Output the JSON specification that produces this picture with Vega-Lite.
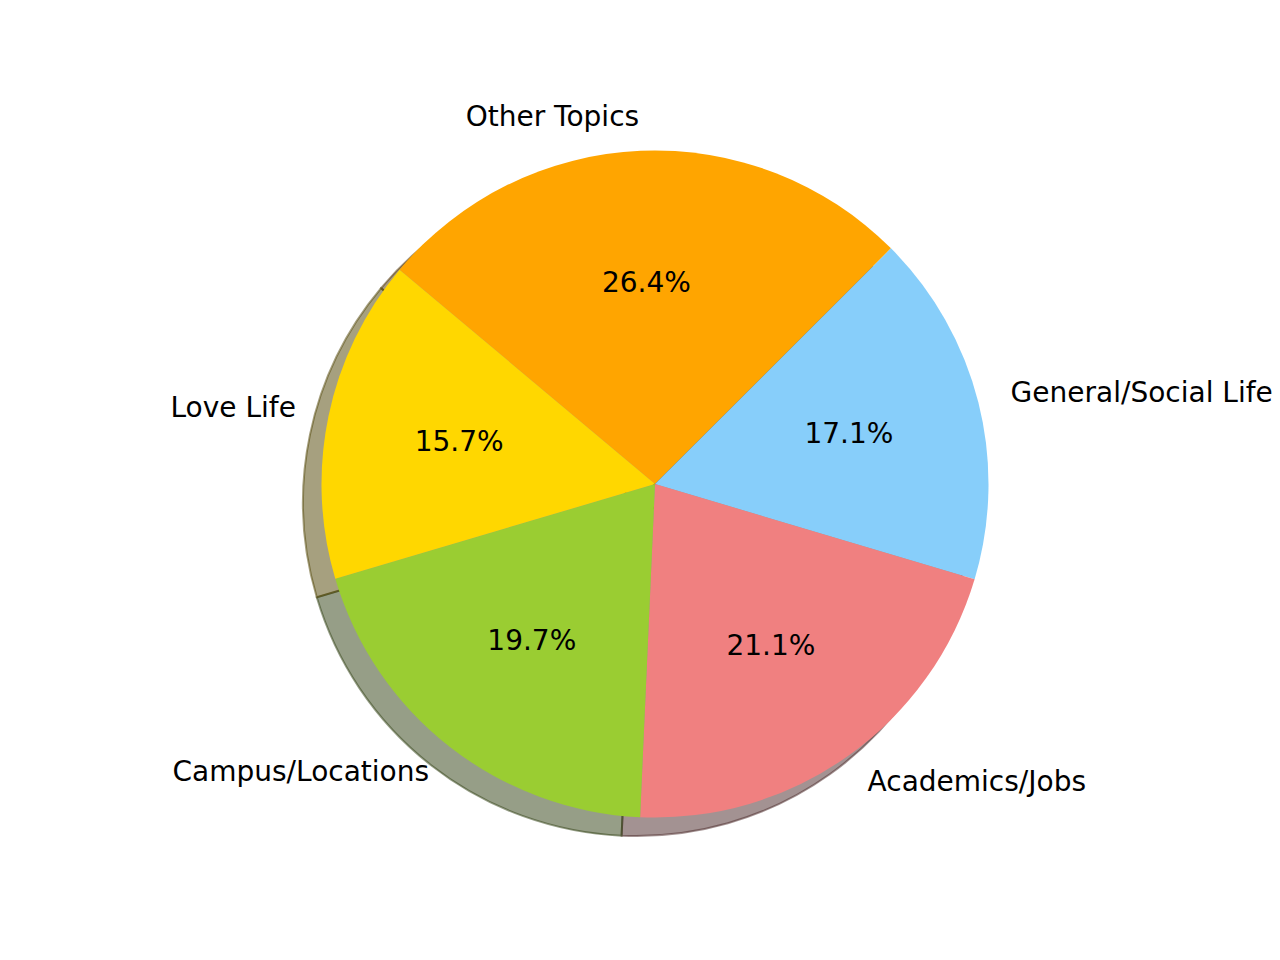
{
  "$schema": "https://vega.github.io/schema/vega-lite/v6.json",
  "width": 1280,
  "height": 960,
  "autosize": {"type": "fit", "contains": "padding"},
  "padding": {"left": 30, "top": 8, "right": 0, "bottom": 0},
  "background": "white",
  "config": {"view": {"stroke": null}, "text": {"font": "DejaVu Sans"}},
  "data": {
    "values": [
      {"topic": "Other Topics", "share": 0.264, "rank": 1},
      {"topic": "General/Social Life", "share": 0.171, "rank": 2},
      {"topic": "Academics/Jobs", "share": 0.211, "rank": 3},
      {"topic": "Campus/Locations", "share": 0.197, "rank": 4},
      {"topic": "Love Life", "share": 0.157, "rank": 5}
    ]
  },
  "encoding": {
    "theta": {"field": "share", "type": "quantitative", "stack": true, "scale": {"range": [-0.87266, 5.41052]}},
    "order": {"field": "rank", "type": "ordinal"}
  },
  "layer": [
    {
      "mark": {"type": "arc", "outerRadius": 333.5, "xOffset": -18.5, "yOffset": 18.5, "fillOpacity": 0.5, "strokeOpacity": 0.5, "strokeWidth": 2},
      "encoding": {
        "color": {"field": "topic", "type": "nominal", "legend": null,
          "scale": {"domain": ["Other Topics", "General/Social Life", "Academics/Jobs", "Campus/Locations", "Love Life"],
                    "range": ["#4d3200", "#293e4b", "#482626", "#2e3d0f", "#4d4100"]}},
        "stroke": {"field": "topic", "type": "nominal", "legend": null,
          "scale": {"domain": ["Other Topics", "General/Social Life", "Academics/Jobs", "Campus/Locations", "Love Life"],
                    "range": ["#4d3200", "#293e4b", "#482626", "#2e3d0f", "#4d4100"]}}
      }
    },
    {
      "mark": {"type": "arc", "outerRadius": 333.5},
      "encoding": {
        "color": {"field": "topic", "type": "nominal", "legend": null,
          "scale": {"domain": ["Other Topics", "General/Social Life", "Academics/Jobs", "Campus/Locations", "Love Life"],
                    "range": ["#FFA500", "#87CEFA", "#F08080", "#9ACD32", "#FFD700"]}}
      }
    },
    {
      "mark": {"type": "text", "radius": 366.8, "fontSize": 28, "baseline": "middle", "color": "black",
        "align": {"expr": "datum.topic == 'General/Social Life' || datum.topic == 'Academics/Jobs' ? 'left' : 'right'"}},
      "encoding": {"text": {"field": "topic", "type": "nominal"}}
    },
    {
      "mark": {"type": "text", "radius": 200, "fontSize": 28, "baseline": "middle", "align": "center", "color": "black"},
      "encoding": {"text": {"field": "share", "type": "quantitative", "format": ".1%"}}
    }
  ],
  "resolve": {"scale": {"color": "independent"}}
}
